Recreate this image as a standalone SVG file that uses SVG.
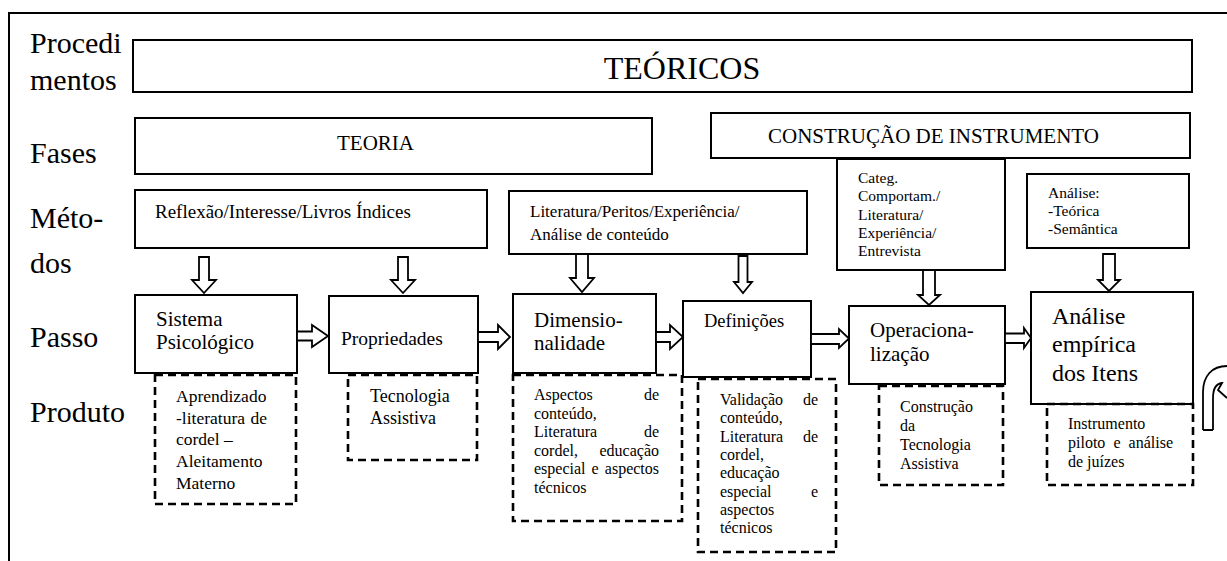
<svg xmlns="http://www.w3.org/2000/svg" width="1227" height="561" viewBox="0 0 1227 561">
<style>
.box{fill:#fff;stroke:#000;stroke-width:2}
.dash{fill:none;stroke:#000;stroke-width:2.6;stroke-dasharray:8 5}
.arr{fill:#fff;stroke:#000;stroke-width:1.8;stroke-linejoin:miter}
.lbl{font-size:30px}
.s16{font-size:16px}
.end{text-anchor:end}
.mid{text-anchor:middle}
</style>
<rect width="1227" height="561" fill="#fff"/>
<path d="M9,561 V13 H1227" fill="none" stroke="#000" stroke-width="2"/>
<g font-family="Liberation Serif, Times New Roman, DejaVu Serif, serif" fill="#000">

<g id="row-labels">
<text class="lbl" x="30" y="53">Procedi</text>
<text class="lbl" x="30" y="90">mentos</text>
<text class="lbl" x="30" y="163">Fases</text>
<text class="lbl" x="30" y="228">Méto-</text>
<text class="lbl" x="30" y="273">dos</text>
<text class="lbl" x="30" y="347">Passo</text>
<text class="lbl" x="30" y="422">Produto</text>
</g>

<g id="procedimentos">
<rect class="box" x="133" y="40" width="1059" height="52"/>
<text x="682" y="79" class="mid" font-size="32">TEÓRICOS</text>
</g>

<g id="fase-teoria">
<rect class="box" x="135" y="118" width="517" height="56"/>
<text x="337" y="150" font-size="21">TEORIA</text>
</g>

<g id="fase-construcao">
<rect class="box" x="711" y="113" width="479" height="45"/>
<text x="768" y="143" font-size="21">CONSTRUÇÃO DE INSTRUMENTO</text>
</g>

<g id="metodo-reflexao">
<rect class="box" x="135" y="190" width="352" height="58"/>
<text x="155" y="218" font-size="19">Reflexão/Interesse/Livros Índices</text>
</g>

<g id="metodo-literatura">
<rect class="box" x="509" y="191" width="298" height="63"/>
<text x="530" y="217" font-size="17">Literatura/Peritos/Experiência/</text>
<text x="530" y="240" font-size="17">Análise de conteúdo</text>
</g>

<g id="metodo-categ">
<rect class="box" x="837" y="159" width="168" height="111"/>
<text x="858" y="183" font-size="15.5">Categ.</text>
<text x="858" y="201" font-size="15.5">Comportam./</text>
<text x="858" y="219.5" font-size="15.5">Literatura/</text>
<text x="858" y="237.5" font-size="15.5">Experiência/</text>
<text x="858" y="256" font-size="15.5">Entrevista</text>
</g>

<g id="metodo-analise">
<rect class="box" x="1027" y="174" width="162" height="74"/>
<text x="1048" y="198" font-size="15.5">Análise:</text>
<text x="1048" y="216" font-size="15.5">-Teórica</text>
<text x="1048" y="234" font-size="15.5">-Semântica</text>
</g>

<g id="passo-sistema">
<rect class="box" x="135" y="295" width="162" height="78"/>
<text x="156" y="326" font-size="21">Sistema</text>
<text x="156" y="349" font-size="21">Psicológico</text>
</g>

<g id="passo-propriedades">
<rect class="box" x="329" y="296" width="149" height="77"/>
<text x="341" y="345" font-size="19.5">Propriedades</text>
</g>

<g id="passo-dimensionalidade">
<rect class="box" x="513" y="294" width="143" height="79"/>
<text x="534" y="327" font-size="21">Dimensio-</text>
<text x="534" y="350" font-size="21">nalidade</text>
</g>

<g id="passo-definicoes">
<rect class="box" x="683" y="301" width="128" height="76"/>
<text x="704" y="327" font-size="18.5">Definições</text>
</g>

<g id="passo-operacionalizacao">
<rect class="box" x="849" y="306" width="156" height="78"/>
<text x="870" y="337" font-size="21">Operaciona-</text>
<text x="870" y="361" font-size="21">lização</text>
</g>

<g id="passo-analise-empirica">
<rect class="box" x="1031" y="292" width="162" height="112"/>
<text x="1052" y="324" font-size="24">Análise</text>
<text x="1052" y="352" font-size="24">empírica</text>
<text x="1052" y="381" font-size="24">dos Itens</text>
</g>

<g id="produto-aprendizado">
<rect class="dash" x="155" y="375" width="141" height="129"/>
<text x="176" y="402" font-size="17.5">Aprendizado</text>
<text x="176" y="424" font-size="17.5">-literatura</text>
<text x="267" y="424" font-size="17.5" class="end">de</text>
<text x="176" y="445" font-size="17.5">cordel –</text>
<text x="176" y="467" font-size="17.5">Aleitamento</text>
<text x="176" y="489" font-size="17.5">Materno</text>
</g>

<g id="produto-tecnologia">
<rect class="dash" x="348" y="375" width="129" height="85"/>
<text x="370" y="402" font-size="18">Tecnologia</text>
<text x="370" y="424" font-size="18">Assistiva</text>
</g>

<g id="produto-aspectos">
<rect class="dash" x="513" y="375" width="169" height="146"/>
<text class="s16" x="534" y="400">Aspectos</text>
<text class="s16 end" x="659" y="400">de</text>
<text class="s16" x="534" y="418.5">conteúdo,</text>
<text class="s16" x="534" y="437">Literatura</text>
<text class="s16 end" x="659" y="437">de</text>
<text class="s16" x="534" y="455.5">cordel,</text>
<text class="s16 end" x="659" y="455.5">educação</text>
<text class="s16" x="534" y="474">especial</text>
<text class="s16 mid" x="595" y="474">e</text>
<text class="s16 end" x="659" y="474">aspectos</text>
<text class="s16" x="534" y="492.5">técnicos</text>
</g>

<g id="produto-validacao">
<rect class="dash" x="698" y="379" width="138" height="173"/>
<text class="s16" x="720" y="405">Validação</text>
<text class="s16 end" x="818" y="405">de</text>
<text class="s16" x="720" y="423.3">conteúdo,</text>
<text class="s16" x="720" y="441.6">Literatura</text>
<text class="s16 end" x="818" y="441.6">de</text>
<text class="s16" x="720" y="460">cordel,</text>
<text class="s16" x="720" y="478.2">educação</text>
<text class="s16" x="720" y="496.5">especial</text>
<text class="s16 end" x="818" y="496.5">e</text>
<text class="s16" x="720" y="514.8">aspectos</text>
<text class="s16" x="720" y="533">técnicos</text>
</g>

<g id="produto-construcao">
<rect class="dash" x="879" y="386" width="124" height="99"/>
<text class="s16" x="900" y="412">Construção</text>
<text class="s16" x="900" y="431">da</text>
<text class="s16" x="900" y="450">Tecnologia</text>
<text class="s16" x="900" y="469">Assistiva</text>
</g>

<g id="produto-instrumento">
<rect class="dash" x="1047" y="404" width="146" height="81"/>
<text class="s16" x="1068" y="429">Instrumento</text>
<text class="s16" x="1068" y="448">piloto</text>
<text class="s16 mid" x="1117" y="448">e</text>
<text class="s16 end" x="1173" y="448">análise</text>
<text class="s16" x="1068" y="467">de juízes</text>
</g>
</g>

<g id="connectors">
<path class="arr" d="M199,257 H209 V280 H216 L204,293 L192,280 H199 Z"/>
<path class="arr" d="M398,257 H408 V280 H415 L403,293 L391,280 H398 Z"/>
<path class="arr" d="M576,254 H588 V278 H594 L582,292 L570,278 H576 Z"/>
<path class="arr" d="M738.5,256 H747.5 V282 H752 L743,293 L734,282 H738.5 Z"/>
<path class="arr" d="M923,270 H935 V295 H940 L929,305 L918,295 H923 Z"/>
<path class="arr" d="M1103,254 H1115 V280 H1120 L1109,291 L1098,280 H1103 Z"/>
<path class="arr" d="M297,331.5 H312 V325 L328,336 L312,347 V340.5 H297 Z"/>
<path class="arr" d="M478,332 H498 V325 L510,337 L498,349 V342 H478 Z"/>
<path class="arr" d="M656,332 H670 V325 L683,337 L670,349 V342 H656 Z"/>
<path class="arr" d="M811,334 H839 V329 L849,338.5 L839,348 V344 H811 Z"/>
<path class="arr" d="M1005,333.5 H1024 V328 L1031,338 L1024,348 V343 H1005 Z"/>
<path d="M1203,430 V392 C1203,376 1212,366 1227,366 M1213,430 V398 Q1213,384 1222,383 L1218,390 L1227,398 M1203,430 H1213" fill="none" stroke="#000" stroke-width="1.8"/>
</g>
</svg>
